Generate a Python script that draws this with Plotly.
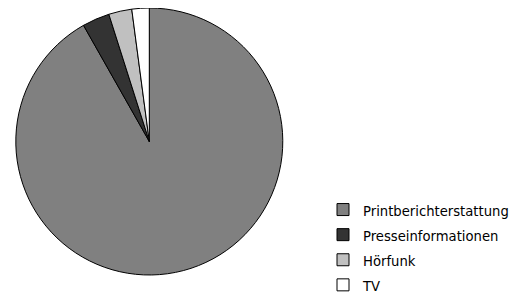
import plotly.graph_objects as go

categories = ["Printberichterstattung", "Presseinformationen", "Hörfunk", "TV"]
shares = [91.8, 3.3, 2.8, 2.1]
colors = ["#808080", "#333333", "#c0c0c0", "#ffffff"]

legend_labels = [f"<span style='font-size:13.2px'>{c}</span>" for c in categories]

W, H = 516, 300

fig = go.Figure(go.Pie(
    labels=legend_labels,
    values=shares,
    sort=False,
    direction="clockwise",
    rotation=0,
    textinfo="none",
    hoverinfo="label+percent",
    marker=dict(colors=colors, line=dict(color="#000000", width=1)),
    domain=dict(x=[7.8/W, 274.8/W], y=[33/H, 1.0]),
))

fig.update_layout(
    width=W, height=H,
    margin=dict(l=0, r=0, t=0, b=0),
    paper_bgcolor="white",
    showlegend=True,
    legend=dict(
        x=315/W, xanchor="left",
        y=5/H, yanchor="bottom",
        font=dict(family="DejaVu Sans, sans-serif", size=17, color="#000000"),
        bgcolor="rgba(0,0,0,0)",
    ),
)

fig.write_html("out.html")
